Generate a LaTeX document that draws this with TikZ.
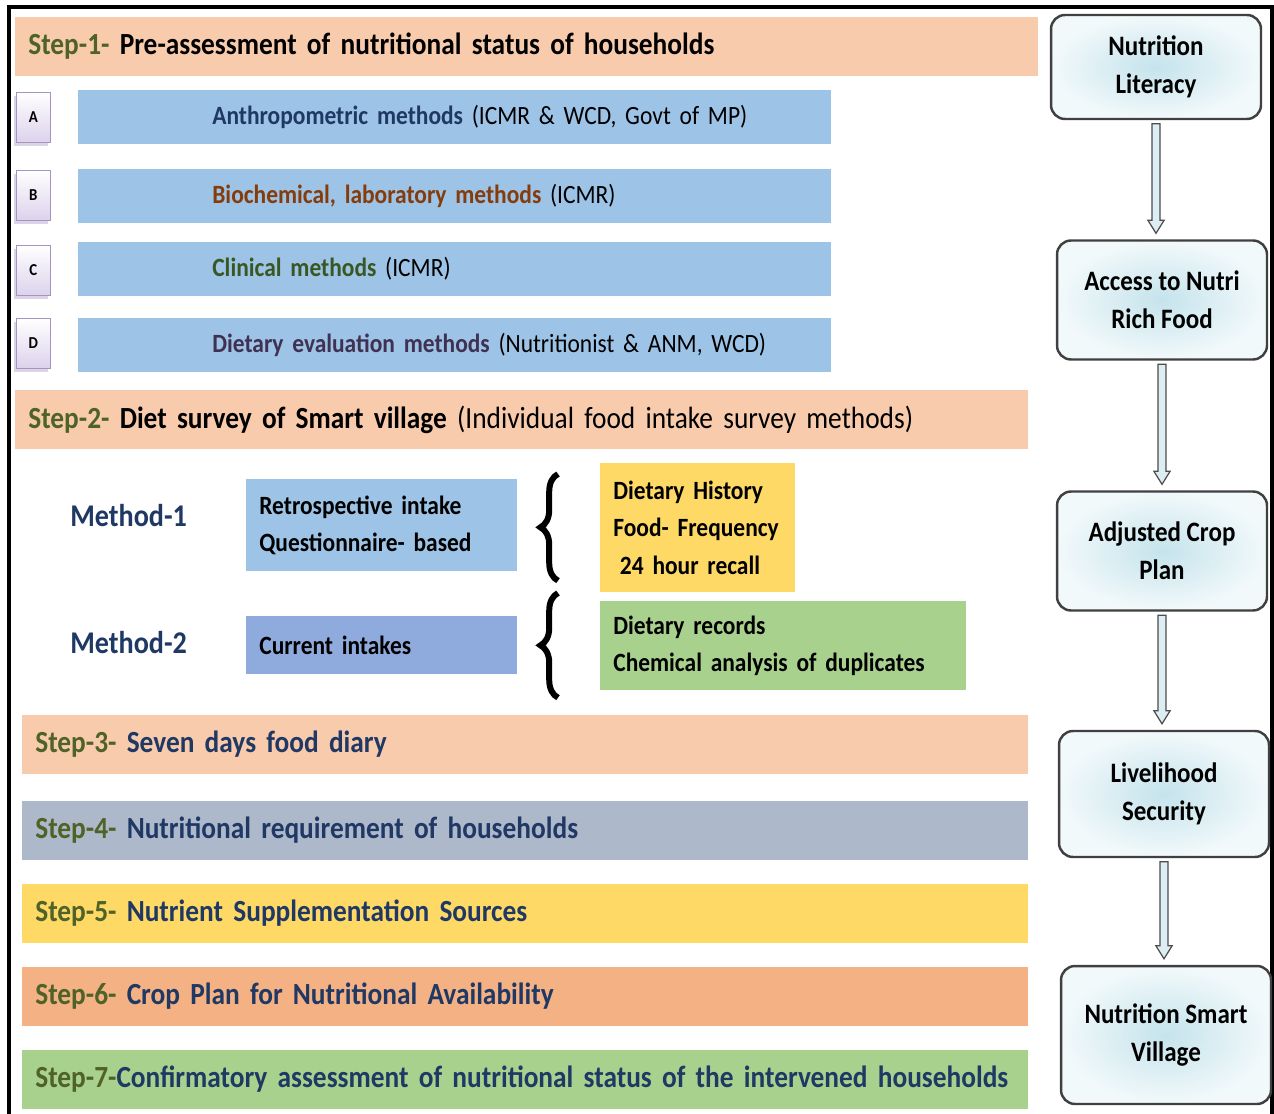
\documentclass[tikz,border=0pt]{standalone}
\usepackage{fontspec}
\setmainfont{Carlito}[FakeStretch=0.89]
\usetikzlibrary{calc,decorations.pathreplacing,shadows}

\definecolor{peach}{HTML}{F8CBAD}
\definecolor{skyblue}{HTML}{9DC3E6}
\definecolor{midblue}{HTML}{8FAADC}
\definecolor{sunyellow}{HTML}{FFD966}
\definecolor{leafgreen}{HTML}{A9D18E}
\definecolor{slategray}{HTML}{ADB9CA}
\definecolor{salmon}{HTML}{F4B183}
\definecolor{stepgreen}{HTML}{4F6228}
\definecolor{navy}{HTML}{1F3864}
\definecolor{rust}{HTML}{843C0C}
\definecolor{clingreen}{HTML}{385723}
\definecolor{plum}{HTML}{403152}
\definecolor{lavender}{HTML}{DCD2EC}
\definecolor{lavedge}{HTML}{A593C2}
\definecolor{icecore}{HTML}{C5E3EC}
\definecolor{iceedge}{HTML}{F2F9FB}

% narrower word spaces, as in the squeezed original
\newcommand{\tightsp}{\spaceskip=0.16em plus 0.05em\relax}

% hollow block arrow from the bottom of one box to the top of the next
\newcommand{\flowarrow}[2]{%
  \draw[flowarrow] let \p1=(#1.south), \p2=(#2.north) in
    (\x1-2.3pt,\y1-2pt) -- (\x1-2.3pt,\y2+10.8pt) -- (\x1-4.6pt,\y2+10.8pt)
    -- (\x1,\y2+3.4pt) -- (\x1+4.6pt,\y2+10.8pt) -- (\x1+2.3pt,\y2+10.8pt)
    -- (\x1+2.3pt,\y1-2pt) -- cycle;}

\begin{document}
\begin{tikzpicture}[x=0.02cm, y=-0.02cm,
    bar/.style={anchor=north west, inner xsep=0.26cm, inner ysep=0pt,
      align=left, font=\bfseries\fontsize{17.5}{21}\selectfont\tightsp},
    stepbar/.style={bar, fill=#1, minimum height=1.17cm},
    methodbar/.style={bar, fill=skyblue, minimum height=1.07cm,
      text width=14.54cm, font=\bfseries\fontsize{15}{19}\selectfont\tightsp},
    letterbox/.style={anchor=north west, draw=lavedge, top color=white,
      bottom color=lavender, minimum width=0.68cm, minimum height=1.0cm,
      inner sep=0pt, font=\bfseries\fontsize{9.5}{11}\selectfont,
      drop shadow={shadow xshift=-1.5pt, shadow yshift=-2pt, fill=lavedge!80}},
    infobox/.style={bar, fill=#1, font=\bfseries\fontsize{15}{21.3}\selectfont\tightsp},
    methodlabel/.style={anchor=west, text=navy, inner xsep=0pt,
      font=\bfseries\fontsize{18}{23}\selectfont},
    stagebox/.style={draw=black!75, line width=1.4pt, rounded corners=0.28cm,
      inner color=icecore, outer color=iceedge, minimum width=4.2cm,
      align=center, font=\bfseries\fontsize{16}{21.5}\selectfont},
    flowarrow/.style={draw=black!70, line width=0.7pt, fill=icecore!60},
    bracket/.style={decorate, decoration={brace, amplitude=10pt},
      line width=3.4pt},
    ]
    \useasboundingbox (0,0) rectangle (1274,1114);
    % outer frame
    \draw[line width=1.8pt] (9,1114) -- (9,7) -- (1272,7) -- (1272,1114);

    % step 1 and its four methods
    \node[stepbar=peach, text width=19.94cm] (step1) at (15,17)
    {\textcolor{stepgreen}{Step-1-} Pre-assessment of nutritional status of households};
    \node[letterbox] (tagA) at (16,92) {A};
    \node[letterbox] (tagB) at (16,170) {B};
    \node[letterbox] (tagC) at (16,245) {C};
    \node[letterbox] (tagD) at (16,318) {D};
    \node[methodbar] (anthro) at (78,90)
    {\hspace*{2.42cm}\textcolor{navy}{Anthropometric methods} \mdseries(ICMR \& WCD, Govt of MP)};
    \node[methodbar] (biochem) at (78,169)
    {\hspace*{2.42cm}\textcolor{rust}{Biochemical, laboratory methods} \mdseries(ICMR)};
    \node[methodbar] (clinic) at (78,242)
    {\hspace*{2.42cm}\textcolor{clingreen}{Clinical methods} \mdseries(ICMR)};
    \node[methodbar] (dietary) at (78,318)
    {\hspace*{2.42cm}\textcolor{plum}{Dietary evaluation methods} \mdseries(Nutritionist \& ANM, WCD)};

    % step 2: diet survey
    \node[stepbar=peach, text width=19.74cm] (step2) at (15,390)
    {\textcolor{stepgreen}{Step-2-} Diet survey of Smart village \mdseries(Individual food intake survey methods)};
    \node[methodlabel] (meth1) at (70,516) {Method-1};
    \node[methodlabel] (meth2) at (70,643) {Method-2};
    \node[infobox=skyblue, text width=4.9cm, minimum height=1.84cm] (retro) at (246,479)
    {Retrospective intake\\Questionnaire- based};
    \node[infobox=midblue, text width=4.9cm, minimum height=1.16cm] (current) at (246,616)
    {Current intakes};
    \node[infobox=sunyellow, text width=3.38cm, minimum height=2.58cm] (hist) at (600,463)
    {Dietary History\\Food- Frequency\\\hspace*{0.25em}24 hour recall};
    \node[infobox=leafgreen, text width=6.8cm, minimum height=1.78cm] (recs) at (600,601)
    {Dietary records\\Chemical analysis of duplicates};
    \draw[bracket] ($(hist.south west)+(-42,-12)$) -- ($(hist.north west)+(-42,11)$);
    \draw[bracket] ($(recs.south west)+(-42,7)$) -- ($(recs.north west)+(-42,-8)$);

    % steps 3 to 7
    \node[stepbar=peach, text width=19.6cm] (step3) at (22,715)
    {\textcolor{stepgreen}{Step-3-} \textcolor{navy}{Seven days food diary}};
    \node[stepbar=slategray, text width=19.6cm] (step4) at (22,801)
    {\textcolor{stepgreen}{Step-4-} \textcolor{navy}{Nutritional requirement of households}};
    \node[stepbar=sunyellow, text width=19.6cm] (step5) at (22,884)
    {\textcolor{stepgreen}{Step-5-} \textcolor{navy}{Nutrient Supplementation Sources}};
    \node[stepbar=salmon, text width=19.6cm] (step6) at (22,967)
    {\textcolor{stepgreen}{Step-6-} \textcolor{navy}{Crop Plan for Nutritional Availability}};
    \node[stepbar=leafgreen, text width=19.6cm] (step7) at (22,1050)
    {\textcolor{stepgreen}{Step-7-}\textcolor{navy}{Confirmatory assessment of nutritional status of the intervened households}};

    % right column: pathway to a nutrition smart village
    \node[stagebox, minimum height=2.08cm] (literacy) at (1156,67) {Nutrition\\Literacy};
    \node[stagebox, minimum height=2.38cm] (access) at (1162,300) {Access to Nutri\\Rich Food};
    \node[stagebox, minimum height=2.38cm] (cropplan) at (1162,551) {Adjusted Crop\\Plan};
    \node[stagebox, minimum height=2.52cm] (liveli) at (1164,794) {Livelihood\\Security};
    \node[stagebox, minimum height=2.76cm] (smart) at (1166,1035) {Nutrition Smart\\Village};
    \flowarrow{literacy}{access}
    \flowarrow{access}{cropplan}
    \flowarrow{cropplan}{liveli}
    \flowarrow{liveli}{smart}
\end{tikzpicture}
\end{document}
